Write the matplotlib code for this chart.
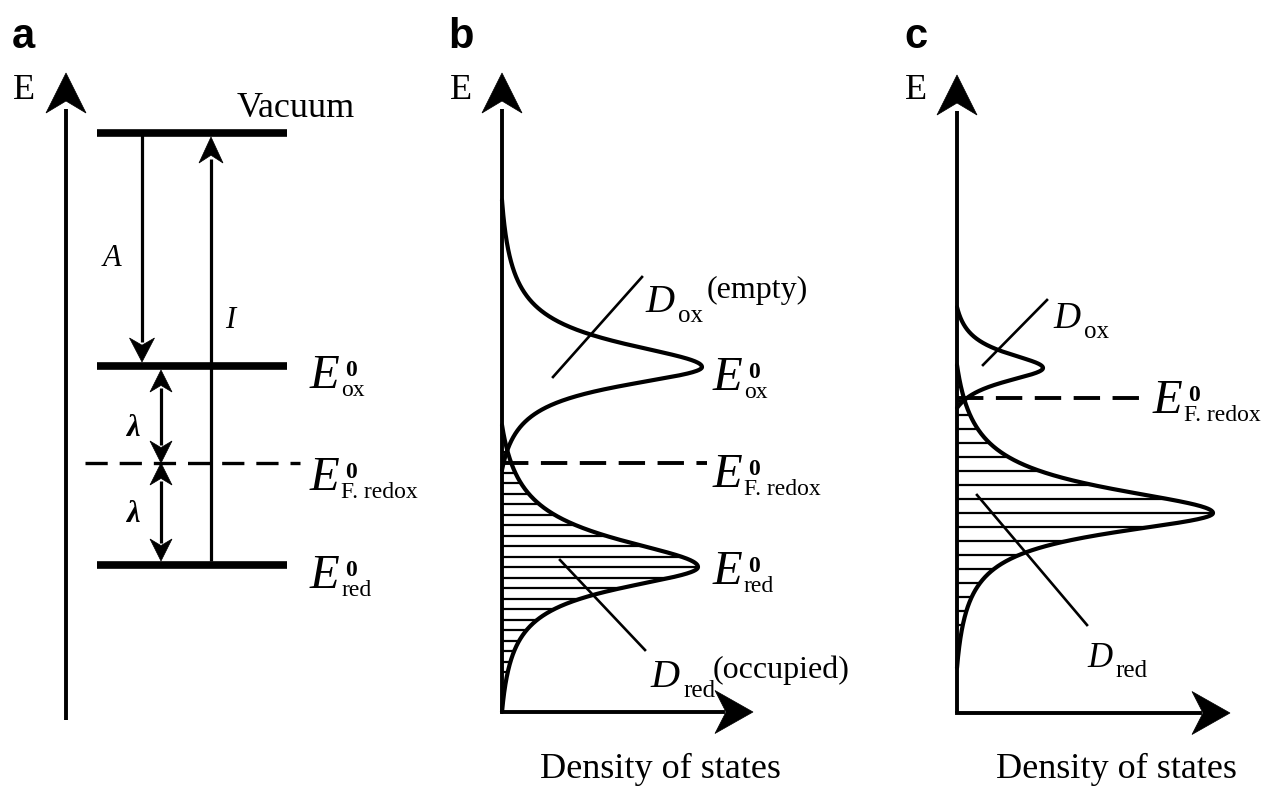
import numpy as np
import matplotlib.pyplot as plt
from matplotlib.patches import Polygon

plt.rcParams['font.family'] = ['Liberation Serif', 'DejaVu Serif']
plt.rcParams['lines.scale_dashes'] = False

W, H = 1280, 789

# ---- panel a: energy levels (plot units, y up) ----
LEVEL_NAMES = ['Vacuum', 'ox', 'F. redox', 'red']
LEVEL_E = [656, 423, 326, 224]

# energy axes of the three panels
AXIS_X = [66, 502, 957]
AXIS_BOTTOM = [69, 77, 76]
AXIS_TOP = [716, 716, 714]
DOS_AXIS_END = [753, 1230]          # density axis tips in b and c
REDOX_E = [326, 326, 391]           # dashed E_F,redox line in a, b, c

# ---- panels b, c: density of states peaks ----
PEAK_PANEL = [1, 1, 2, 2]
PEAK_KIND = ['ox', 'red', 'ox', 'red']
PEAK_E = [422, 222, 421, 276]
PEAK_HEIGHT = [200, 196, 86, 256]
TAIL_TOP = [589, 364, 482, 424]
TAIL_BOTTOM = [319, 77, 381, 121]
WIDTH_UP = [30, 35, 19, 31]
WIDTH_LOW = [24, 27, 18, 25]
HATCH_STEP = {1: 10.5, 2: 14}

fig = plt.figure(figsize=(12.8, 7.89), dpi=100)
ax = fig.add_axes([0, 0, 1, 1])
ax.set_xlim(0, W)
ax.set_ylim(0, H)
ax.axis('off')


def head(x, y, dx, dy, width, length, notch=10):
    # concave arrow head, tip at (x, y) pointing along (dx, dy)
    px, py = -dy, dx
    bx, by = x - dx * length, y - dy * length
    pts = [(x, y),
           (bx + px * width / 2, by + py * width / 2),
           (x - dx * (length - notch), y - dy * (length - notch)),
           (bx - px * width / 2, by - py * width / 2)]
    ax.add_patch(Polygon(pts, closed=True, facecolor='k', edgecolor='k', lw=0.5))


def v_arrow(x, y0, y1, lw, hw, hl, both=False):
    d = np.sign(y1 - y0)
    start = y0 + d * (hl - 4) if both else y0
    ax.plot([x, x], [start, y1 - d * (hl - 4)], color='k', lw=lw, solid_capstyle='butt')
    head(x, y1, 0, d, hw, hl, notch=hl * 0.3)
    if both:
        head(x, y0, 0, -d, hw, hl, notch=hl * 0.3)


def dos(E, i):
    # peak profile with the tails brought down to the axis at both ends
    D = np.zeros_like(E)
    for mask, w, end in [(E >= PEAK_E[i], WIDTH_UP[i], TAIL_TOP[i]),
                         (E < PEAK_E[i], WIDTH_LOW[i], TAIL_BOTTOM[i])]:
        L = 1 / (1 + ((E[mask] - PEAK_E[i]) / w) ** 2)
        Le = 1 / (1 + ((end - PEAK_E[i]) / w) ** 2)
        D[mask] = PEAK_HEIGHT[i] * (L - Le) / (1 - Le)
    return np.clip(D, 0, None)


def e_label(x, base, sub):
    ax.text(x, base, 'E', style='italic', size=35, va='baseline', ha='left')
    ax.text(x + 35, base + 12, '0', weight='bold', size=17, va='baseline')
    ax.text(x + 31, base - 8, sub, size=17, va='baseline')


def d_label(x, base, sub, size=29, extra=None):
    ax.text(x, base, 'D', style='italic', size=size, va='baseline')
    ax.text(x + size * 1.15, base - 10, sub, size=18, va='baseline')
    if extra:
        ax.text(extra[0], extra[1], extra[2], size=23, va='baseline')


# ---- energy axes ----
for k in range(3):
    v_arrow(AXIS_X[k], AXIS_BOTTOM[k], AXIS_TOP[k], 2.8, 40, 40)
for k in (1, 2):
    y = AXIS_BOTTOM[k]
    ax.plot([AXIS_X[k], DOS_AXIS_END[k - 1] - 30], [y, y], color='k', lw=2.8,
            solid_capstyle='projecting')
    head(DOS_AXIS_END[k - 1], y, 1, 0, 43, 38, notch=11)

# panel labels and E
for k, letter in enumerate(['a', 'b', 'c']):
    lx = [12, 448, 904][k]
    ax.text(lx, 741, letter, family='Liberation Sans', weight='bold', size=30, va='baseline')
    ax.text([13, 450, 905][k], 690, 'E', size=26, va='baseline')

# ---- panel a ----
for e in (LEVEL_E[0], LEVEL_E[1], LEVEL_E[3]):
    ax.plot([97, 287], [e, e], color='k', lw=5.5, solid_capstyle='butt')
ax.plot([85, 300], [REDOX_E[0], REDOX_E[0]], color='k', lw=2.4, dashes=(16, 8.6))
ax.text(237, 672, 'Vacuum', size=26, va='baseline')

v_arrow(142, LEVEL_E[0], LEVEL_E[1] + 4, 2.3, 25, 24)        # A
v_arrow(211, LEVEL_E[3] + 4, LEVEL_E[0] - 4, 2.3, 24, 26)    # I
v_arrow(161, LEVEL_E[1] - 4, LEVEL_E[2], 2.3, 22, 22, both=True)
v_arrow(161, LEVEL_E[2], LEVEL_E[3] + 4, 2.3, 22, 22, both=True)
ax.text(112, 531, 'A', style='italic', size=22, ha='center', va='center')
ax.text(230, 469, 'I', style='italic', size=22, ha='center', va='center')
ax.text(133, 361, 'λ', style='italic', weight='bold', size=22, ha='center', va='center')
ax.text(133, 274, 'λ', style='italic', weight='bold', size=22, ha='center', va='center')

e_label(310, 401, 'ox')
e_label(310, 299, 'F. redox')
e_label(310, 201, 'red')

# ---- panels b and c: curves + hatching ----
for i in range(4):
    k = PEAK_PANEL[i]
    x0 = AXIS_X[k]
    E = np.linspace(TAIL_BOTTOM[i], TAIL_TOP[i], 600)
    ax.plot(x0 + dos(E, i), E, color='k', lw=3.0, solid_capstyle='round')
    if PEAK_KIND[i] == 'red':
        step = HATCH_STEP[k]
        up = np.arange(PEAK_E[i], TAIL_TOP[i], step)
        low = np.arange(PEAK_E[i] - step, TAIL_BOTTOM[i] + 4, -step)
        hy = np.concatenate([low, up])
        ax.hlines(hy, x0, x0 + dos(hy, i), color='k', lw=1.6)

ax.plot([502, 707], [REDOX_E[1], REDOX_E[1]], color='k', lw=2.8, dashes=(19, 9))
ax.plot([957, 1147], [REDOX_E[2], REDOX_E[2]], color='k', lw=2.8, dashes=(19, 9))

# leader lines to the D labels
LEADER_X = [(553, 642), (560, 645), (983, 1047), (977, 1087)]
LEADER_Y = [(412, 512), (229, 139), (424, 489), (294, 164)]
for lx, ly in zip(LEADER_X, LEADER_Y):
    ax.plot(lx, ly, color='k', lw=1.9)

e_label(713, 399, 'ox')
e_label(713, 302, 'F. redox')
e_label(713, 205, 'red')
e_label(1153, 376, 'F. redox')

d_label(645, 477, 'ox', extra=(707, 491, '(empty)'))
d_label(650, 102, 'red', extra=(713, 111, '(occupied)'))
d_label(1053, 461, 'ox', size=27)
d_label(1087, 122, 'red', size=25)

ax.text(660, 11, 'Density of states', size=26, ha='center', va='baseline')
ax.text(1116, 11, 'Density of states', size=26, ha='center', va='baseline')

fig.savefig('out.png', dpi=100)
